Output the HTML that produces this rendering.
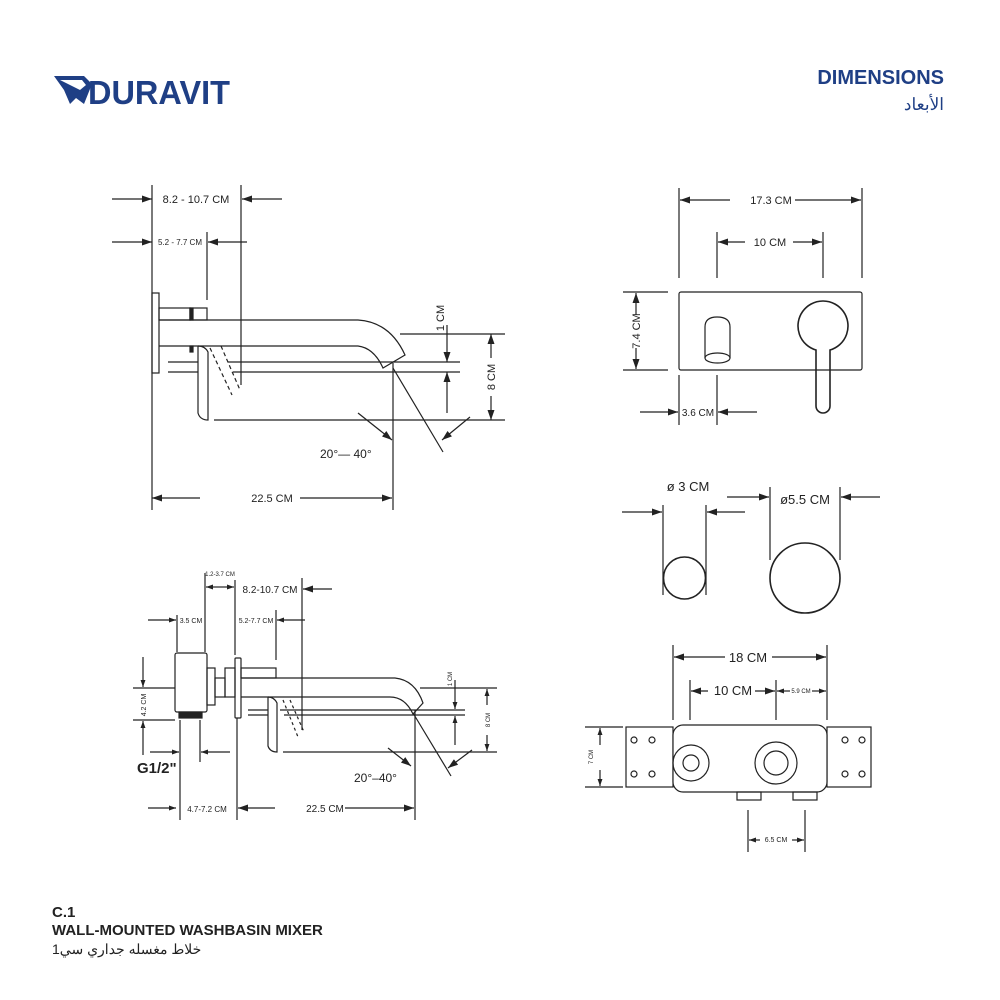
<!DOCTYPE html>
<html><head><meta charset="utf-8"><style>
html,body{margin:0;padding:0;background:#fff;width:1000px;height:1000px;overflow:hidden}
svg{display:block}
text{font-family:"Liberation Sans","Noto Sans CJK SC",sans-serif;fill:#222}
</style></head><body>
<svg width="1000" height="1000" viewBox="0 0 1000 1000" xmlns="http://www.w3.org/2000/svg">
<defs>
<marker id="a" viewBox="0 0 10 7" refX="10" refY="3.5" markerWidth="11" markerHeight="7" markerUnits="userSpaceOnUse" orient="auto"><path d="M0,0 L10,3.5 L0,7 z" fill="#222"/></marker>
<marker id="s" viewBox="0 0 10 7" refX="10" refY="3.5" markerWidth="7" markerHeight="5" markerUnits="userSpaceOnUse" orient="auto"><path d="M0,0 L10,3.5 L0,7 z" fill="#222"/></marker>
</defs>

<!-- Logo -->
<g fill="#1f3f85">
<path d="M54,76 L84,76 L92,84 L84,104 L76,98 L70,104 L64,90 Z"/>
<path d="M60,80 L82,80 L86,85 L80,90 Z" fill="#fff"/>
</g>
<text x="88" y="104" font-size="33" font-weight="bold" style="fill:#1f3f85" textLength="142" lengthAdjust="spacingAndGlyphs">DURAVIT</text>

<text x="944" y="84" font-size="20" font-weight="bold" text-anchor="end" style="fill:#1f3f85">DIMENSIONS</text>
<text x="944" y="110" font-size="17" text-anchor="end" style="fill:#1f3f85">الأبعاد</text>

<text x="52" y="917" font-size="15" font-weight="bold">C.1</text>
<text x="52" y="935" font-size="15" font-weight="bold">WALL-MOUNTED WASHBASIN MIXER</text>
<text x="52" y="954" font-size="14">خلاط مغسله جداري سي1</text>

<g stroke="#222" stroke-width="1.2" fill="none">
<!-- ===== TOP LEFT ===== -->
<line x1="112" y1="199" x2="152" y2="199" marker-end="url(#a)"/>
<line x1="282" y1="199" x2="242" y2="199" marker-end="url(#a)"/>
<line x1="112" y1="242" x2="152" y2="242" marker-end="url(#a)"/>
<line x1="247" y1="242" x2="208" y2="242" marker-end="url(#a)"/>
<line x1="152" y1="185" x2="152" y2="510"/>
<line x1="241" y1="185" x2="241" y2="385"/>
<line x1="207" y1="232" x2="207" y2="300"/>
<rect x="152" y="293" width="7" height="80"/>
<rect x="159" y="308" width="31" height="12"/>
<rect x="190" y="308" width="17" height="12"/>
<rect x="190" y="346" width="3" height="6" fill="#222"/>
<rect x="190" y="308" width="3" height="12" fill="#222"/>
<path d="M159,320 L358,320 Q390,322 405,355 L383,368 Q374,348 358,346 L159,346"/>
<path d="M168,362 L198,362 M168,372 L198,372"/>
<path d="M198,346 L198,413 Q200,420 208,420 L208,352 Q205,346 198,346"/>
<path d="M228,362 L460,362 M233,372 L460,372"/>
<path d="M210,348 L232,395 M221,346 L240,390" stroke-dasharray="4,3"/>
<line x1="200" y1="498" x2="152" y2="498" marker-end="url(#a)"/>
<line x1="300" y1="498" x2="392" y2="498" marker-end="url(#a)"/>
<line x1="393" y1="363" x2="393" y2="510"/>
<line x1="400" y1="334" x2="505" y2="334"/>
<line x1="214" y1="420" x2="505" y2="420"/>
<line x1="491" y1="358" x2="491" y2="334" marker-end="url(#a)"/>
<line x1="491" y1="396" x2="491" y2="420" marker-end="url(#a)"/>
<line x1="447" y1="325" x2="447" y2="362" marker-end="url(#a)"/>
<line x1="447" y1="413" x2="447" y2="372" marker-end="url(#a)"/>
<line x1="393" y1="368" x2="443" y2="452"/>
<line x1="358" y1="413" x2="392" y2="440" marker-end="url(#a)"/>
<line x1="470" y1="417" x2="442" y2="440" marker-end="url(#a)"/>

<!-- ===== TOP RIGHT ===== -->
<line x1="730" y1="200" x2="680" y2="200" marker-end="url(#a)"/>
<line x1="795" y1="200" x2="861" y2="200" marker-end="url(#a)"/>
<line x1="679" y1="188" x2="679" y2="278"/>
<line x1="862" y1="188" x2="862" y2="278"/>
<line x1="745" y1="242" x2="718" y2="242" marker-end="url(#a)"/>
<line x1="793" y1="242" x2="822" y2="242" marker-end="url(#a)"/>
<line x1="717" y1="232" x2="717" y2="278"/>
<line x1="823" y1="232" x2="823" y2="278"/>
<rect x="679" y="292" width="183" height="78" rx="2"/>
<path d="M705,358 L705,327 Q705,317 717,317 Q730,317 730,327 L730,358"/>
<ellipse cx="717.5" cy="358" rx="12.5" ry="5"/>
<path d="M816,350 A25,25 0 1 1 830,350 L830,406 A7,7 0 0 1 816,406 Z" stroke-width="1.6"/>
<line x1="623" y1="292" x2="668" y2="292"/>
<line x1="623" y1="370" x2="668" y2="370"/>
<line x1="636" y1="315" x2="636" y2="293" marker-end="url(#a)"/>
<line x1="636" y1="348" x2="636" y2="369" marker-end="url(#a)"/>
<line x1="640" y1="412" x2="678" y2="412" marker-end="url(#a)"/>
<line x1="757" y1="412" x2="718" y2="412" marker-end="url(#a)"/>
<line x1="679" y1="375" x2="679" y2="425"/>
<line x1="717" y1="375" x2="717" y2="425"/>

<!-- ===== CIRCLES ===== -->
<line x1="622" y1="512" x2="662" y2="512" marker-end="url(#a)"/>
<line x1="745" y1="512" x2="707" y2="512" marker-end="url(#a)"/>
<line x1="663" y1="505" x2="663" y2="595"/>
<line x1="706" y1="505" x2="706" y2="595"/>
<circle cx="684.5" cy="578" r="21" stroke-width="1.6"/>
<line x1="727" y1="497" x2="769" y2="497" marker-end="url(#a)"/>
<line x1="880" y1="497" x2="841" y2="497" marker-end="url(#a)"/>
<line x1="770" y1="487" x2="770" y2="560"/>
<line x1="840" y1="487" x2="840" y2="560"/>
<circle cx="805" cy="578" r="35" stroke-width="1.6"/>

<!-- ===== BOTTOM RIGHT ===== -->
<line x1="725" y1="657" x2="674" y2="657" marker-end="url(#a)"/>
<line x1="772" y1="657" x2="826" y2="657" marker-end="url(#a)"/>
<line x1="673" y1="645" x2="673" y2="720"/>
<line x1="827" y1="645" x2="827" y2="720"/>
<line x1="708" y1="691" x2="691" y2="691" marker-end="url(#a)"/>
<line x1="755" y1="691" x2="775" y2="691" marker-end="url(#a)"/>
<line x1="790" y1="691" x2="777" y2="691" marker-end="url(#s)"/>
<line x1="812" y1="691" x2="826" y2="691" marker-end="url(#s)"/>
<line x1="690" y1="680" x2="690" y2="720"/>
<line x1="776" y1="680" x2="776" y2="720"/>
<rect x="626" y="727" width="47" height="60"/>
<rect x="827" y="727" width="44" height="60"/>
<rect x="673" y="725" width="154" height="67" rx="10" fill="#fff"/>
<circle cx="634" cy="740" r="3"/><circle cx="652" cy="740" r="3"/>
<circle cx="634" cy="774" r="3"/><circle cx="652" cy="774" r="3"/>
<circle cx="845" cy="740" r="3"/><circle cx="862" cy="740" r="3"/>
<circle cx="845" cy="774" r="3"/><circle cx="862" cy="774" r="3"/>
<circle cx="691" cy="763" r="18"/><circle cx="691" cy="763" r="8"/>
<circle cx="776" cy="763" r="21"/><circle cx="776" cy="763" r="12"/>
<rect x="737" y="792" width="24" height="8"/>
<rect x="793" y="792" width="24" height="8"/>
<line x1="748" y1="810" x2="748" y2="852"/>
<line x1="805" y1="810" x2="805" y2="852"/>
<line x1="760" y1="840" x2="749" y2="840" marker-end="url(#s)"/>
<line x1="792" y1="840" x2="804" y2="840" marker-end="url(#s)"/>
<line x1="585" y1="727" x2="623" y2="727"/>
<line x1="585" y1="787" x2="623" y2="787"/>
<line x1="600" y1="745" x2="600" y2="728" marker-end="url(#s)"/>
<line x1="600" y1="770" x2="600" y2="786" marker-end="url(#s)"/>

<!-- ===== BOTTOM LEFT ===== -->
<line x1="212" y1="587" x2="206" y2="587" marker-end="url(#s)"/>
<line x1="228" y1="587" x2="234" y2="587" marker-end="url(#s)"/>
<line x1="212" y1="587" x2="228" y2="587"/>
<line x1="205" y1="573" x2="205" y2="652"/>
<line x1="235" y1="580" x2="235" y2="655"/>
<line x1="332" y1="589" x2="303" y2="589" marker-end="url(#a)"/>
<line x1="302" y1="578" x2="302" y2="730"/>
<line x1="148" y1="620" x2="176" y2="620" marker-end="url(#s)"/>
<line x1="177" y1="615" x2="177" y2="652"/>
<line x1="305" y1="620" x2="277" y2="620" marker-end="url(#s)"/>
<line x1="276" y1="610" x2="276" y2="660"/>
<rect x="175" y="653" width="32" height="59" rx="2"/>
<rect x="179" y="712" width="23" height="6" fill="#222"/>
<rect x="207" y="668" width="8" height="37"/>
<rect x="215" y="678" width="10" height="19"/>
<rect x="225" y="668" width="10" height="29"/>
<rect x="235" y="658" width="6" height="60" rx="1"/>
<rect x="241" y="668" width="35" height="10"/>
<path d="M241,678 L395,678 Q415,680 423,703 L413,714 Q405,697 390,697 L241,697"/>
<path d="M248,710 L268,710 M248,715 L268,715 M280,710 L465,710 M284,715 L465,715"/>
<path d="M268,697 L268,746 Q270,752 277,752 L277,703 Q274,697 268,697"/>
<path d="M283,700 L298,737 M290,700 L304,732" stroke-dasharray="3,3"/>
<line x1="143" y1="657" x2="143" y2="687" marker-end="url(#s)"/>
<line x1="143" y1="755" x2="143" y2="721" marker-end="url(#s)"/>
<line x1="133" y1="688" x2="175" y2="688"/>
<line x1="133" y1="720" x2="175" y2="720"/>
<line x1="150" y1="752" x2="179" y2="752" marker-end="url(#s)"/>
<line x1="230" y1="752" x2="201" y2="752" marker-end="url(#s)"/>
<line x1="180" y1="720" x2="180" y2="820"/>
<line x1="200" y1="720" x2="200" y2="762"/>
<line x1="148" y1="808" x2="176" y2="808" marker-end="url(#s)"/>
<line x1="275" y1="808" x2="238" y2="808" marker-end="url(#a)"/>
<line x1="345" y1="808" x2="414" y2="808" marker-end="url(#a)"/>
<line x1="237" y1="718" x2="237" y2="820"/>
<line x1="415" y1="710" x2="415" y2="820"/>
<line x1="420" y1="688" x2="497" y2="688"/>
<line x1="283" y1="752" x2="497" y2="752"/>
<line x1="487" y1="705" x2="487" y2="689" marker-end="url(#s)"/>
<line x1="487" y1="735" x2="487" y2="751" marker-end="url(#s)"/>
<line x1="455" y1="680" x2="455" y2="709" marker-end="url(#s)"/>
<line x1="455" y1="745" x2="455" y2="716" marker-end="url(#s)"/>
<line x1="413" y1="713" x2="451" y2="776"/>
<line x1="388" y1="748" x2="411" y2="766" marker-end="url(#a)"/>
<line x1="472" y1="750" x2="448" y2="768" marker-end="url(#a)"/>
</g>

<!-- Labels -->
<g font-size="11">
<text x="196" y="203" text-anchor="middle">8.2 - 10.7 CM</text>
<text x="180" y="245" text-anchor="middle" font-size="8">5.2 - 7.7 CM</text>
<text x="272" y="502" text-anchor="middle">22.5 CM</text>
<text x="320" y="458" font-size="12">20°—  40°</text>
<text transform="translate(444,318) rotate(-90)" text-anchor="middle">1 CM</text>
<text transform="translate(495,377) rotate(-90)" text-anchor="middle">8 CM</text>
<text x="771" y="204" text-anchor="middle">17.3 CM</text>
<text x="770" y="246" text-anchor="middle">10 CM</text>
<text transform="translate(640,331) rotate(-90)" text-anchor="middle">7.4 CM</text>
<text x="698" y="416" text-anchor="middle" font-size="10">3.6 CM</text>
<text x="688" y="491" text-anchor="middle" font-size="13">ø 3 CM</text>
<text x="805" y="504" text-anchor="middle" font-size="13">ø5.5 CM</text>
<text x="748" y="662" text-anchor="middle" font-size="13">18 CM</text>
<text x="733" y="695" text-anchor="middle" font-size="13">10 CM</text>
<text x="801" y="693" text-anchor="middle" font-size="6">5.9 CM</text>
<text x="776" y="842" text-anchor="middle" font-size="7">6.5 CM</text>
<text transform="translate(593,757) rotate(-90)" text-anchor="middle" font-size="6">7 CM</text>
<text x="220" y="576" text-anchor="middle" font-size="6">1.2-3.7 CM</text>
<text x="270" y="593" text-anchor="middle" font-size="10">8.2-10.7 CM</text>
<text x="191" y="623" text-anchor="middle" font-size="7">3.5 CM</text>
<text x="256" y="623" text-anchor="middle" font-size="7">5.2-7.7 CM</text>
<text transform="translate(146,705) rotate(-90)" text-anchor="middle" font-size="7">4.2 CM</text>
<text x="137" y="773" font-size="15" font-weight="bold">G1/2"</text>
<text x="207" y="812" text-anchor="middle" font-size="8">4.7-7.2 CM</text>
<text x="325" y="812" text-anchor="middle" font-size="10">22.5 CM</text>
<text x="354" y="782" font-size="12">20°–40°</text>
<text transform="translate(452,679) rotate(-90)" text-anchor="middle" font-size="6">1 CM</text>
<text transform="translate(490,720) rotate(-90)" text-anchor="middle" font-size="6">8 CM</text>
</g>
</svg>
</body></html>
